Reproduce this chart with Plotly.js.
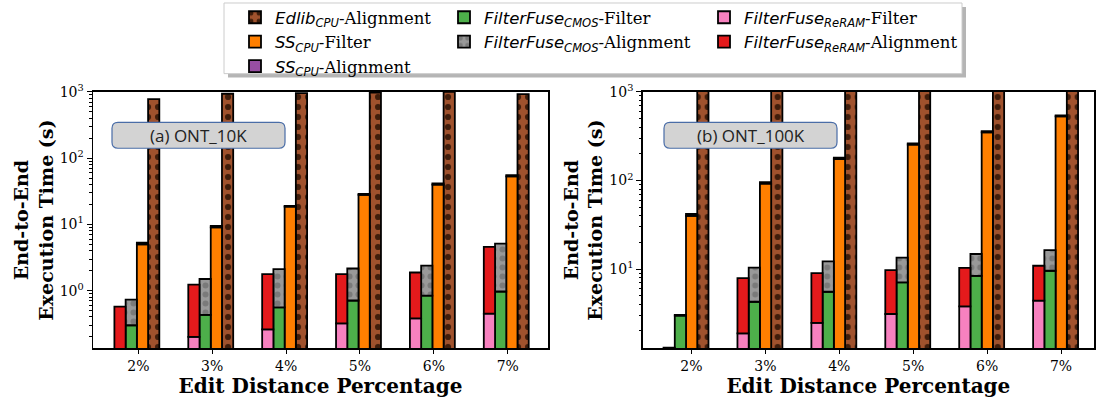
<!DOCTYPE html>
<html><head><meta charset="utf-8">
<script src="https://cdn.plot.ly/plotly-3.0.1.min.js"></script>
<style>html,body{margin:0;padding:0;background:#fff}#chart{width:1096px;height:400px}</style>
</head><body><div id="chart"></div>
<script>
// ---------------- data ----------------
const categories = ['2%', '3%', '4%', '5%', '6%', '7%'];

// (a) ONT_10K  (seconds)
const a_edlibAlign  = [780, 940, 960, 980, 1000, 930];
const a_ssFilter    = [5.0, 9.0, 18.5, 28, 40, 53];
const a_ssAlign     = [0.3, 0.5, 0.6, 1.0, 1.5, 2.5];
const a_cmosFilter  = [0.30, 0.43, 0.56, 0.71, 0.84, 0.97];
const a_cmosAlign   = [0.43, 1.07, 1.56, 1.45, 1.54, 4.17];
const a_reramFilter = [0.12, 0.20, 0.26, 0.32, 0.38, 0.45];
const a_reramAlign  = [0.455, 1.03, 1.52, 1.46, 1.50, 4.14];

// (b) ONT_100K (seconds)
const b_edlibAlign  = [1500, 1800, 2100, 2400, 2700, 3000];
const b_ssFilter    = [40, 92, 175, 255, 350, 530];
const b_ssAlign     = [2, 4, 6, 7, 11, 12];
const b_cmosFilter  = [2.98, 4.28, 5.55, 7.06, 8.4, 9.57];
const b_cmosAlign   = [0.05, 6.12, 6.65, 6.44, 6.4, 6.83];
const b_reramFilter = [0.9, 1.88, 2.47, 3.11, 3.79, 4.4];
const b_reramAlign  = [0.4, 6.02, 6.53, 6.64, 6.51, 6.5];

const leftTickVals  = [1, 10, 100, 1000];
const leftTickText  = ['10<sup>0</sup>', '10<sup>1</sup>', '10<sup>2</sup>', '10<sup>3</sup>'];
const rightTickVals = [10, 100, 1000];
const rightTickText = ['10<sup>1</sup>', '10<sup>2</sup>', '10<sup>3</sup>'];
const panelLabels   = ['(a) ONT_10K', '(b) ONT_100K'];

// ---------------- styling ----------------
const sub = (main, s) => `<span style="font-family:DejaVu Sans"><i>${main}</i><sub><i>${s}</i></sub></span>`;
const names = {
  edlib: sub('Edlib', 'CPU') + '-Alignment',
  ssF: sub('SS', 'CPU') + '-Filter',
  ssA: sub('SS', 'CPU') + '-Alignment',
  cmosF: sub('FilterFuse', 'CMOS') + '-Filter',
  cmosA: sub('FilterFuse', 'CMOS') + '-Alignment',
  reramF: sub('FilterFuse', 'ReRAM') + '-Filter',
  reramA: sub('FilterFuse', 'ReRAM') + '-Alignment'
};
const colors = {
  edlib: '#a0522d', ssF: '#ff7f00', ssA: '#984ea3', cmosF: '#4daf4a',
  cmosA: '#999999', reramF: '#f781bf', reramA: '#e41a1c'
};
const W = 0.152;
const edge = {color: '#000', width: 1.8};

function panel(d, xa, ya, shift, showLegend) {
  const o = shift; // offset of first bar relative to category centre
  const t = [];
  function bar(key, y, base, off, legend, pattern) {
    const tr = {
      type: 'bar', x: categories, y: y, xaxis: xa, yaxis: ya,
      name: names[key], legend: legend, showlegend: showLegend,
      offset: off, width: W,
      marker: {color: colors[key], line: edge},
      hoverinfo: 'y'
    };
    if (base) tr.base = base;
    if (pattern) tr.marker.pattern = Object.assign({bgcolor: colors[key], fillmode: 'replace'}, pattern);
    t.push(tr);
  }
  bar('edlib', d.edlib, null, o + 3 * W, 'legend',
      {shape: '.', fgcolor: '#3f1d0b', size: 10, solidity: 0.3});
  bar('ssF', d.ssF, null, o + 2 * W, 'legend');
  bar('ssA', d.ssA, d.ssF, o + 2 * W, 'legend');
  bar('cmosF', d.cmosF, null, o + W, 'legend2');
  bar('cmosA', d.cmosA, d.cmosF, o + W, 'legend2',
      {shape: '.', fgcolor: '#7a7a7a', size: 9, solidity: 0.35});
  bar('reramF', d.reramF, null, o, 'legend3');
  bar('reramA', d.reramA, d.reramF, o, 'legend3');
  return t;
}

const dataA = {edlib: a_edlibAlign, ssF: a_ssFilter, ssA: a_ssAlign, cmosF: a_cmosFilter,
               cmosA: a_cmosAlign, reramF: a_reramFilter, reramA: a_reramAlign};
const dataB = {edlib: b_edlibAlign, ssF: b_ssFilter, ssA: b_ssAlign, cmosF: b_cmosFilter,
               cmosA: b_cmosAlign, reramF: b_reramFilter, reramA: b_reramAlign};

const traces = [].concat(
  panel(dataA, 'x', 'y', -0.324, true),
  panel(dataB, 'x2', 'y2', -0.378, false)
);

function minorVals(lo, hi) {
  const v = [];
  for (let p = lo; p < hi; p++) for (let k = 2; k <= 9; k++) v.push(k * Math.pow(10, p));
  return v;
}

const serif = 'DejaVu Serif';
const titleFont = {family: serif, size: 20, color: '#000'};
const tickFont = {family: serif, size: 14, color: '#000'};

function xAxis(domain, range) {
  return {
    domain: domain, type: 'category', range: range,
    showline: true, linecolor: '#000', linewidth: 1.5, mirror: true,
    ticks: 'outside', ticklen: 4, tickwidth: 1, tickcolor: '#000',
    tickfont: tickFont, showgrid: false, zeroline: false, fixedrange: true,
    title: {text: '<b>Edit Distance Percentage</b>', font: titleFont, standoff: 3}
  };
}
function yAxis(range, tv, tt, minor, anchor) {
  return {
    domain: [0.13, 0.774], type: 'log', range: range, anchor: anchor,
    tickmode: 'array', tickvals: tv, ticktext: tt,
    showline: true, linecolor: '#000', linewidth: 1.5, mirror: true,
    ticks: 'outside', ticklen: 5, tickwidth: 1, tickcolor: '#000',
    minor: {tickmode: 'array', tickvals: minor, ticks: 'outside', ticklen: 2.5, tickwidth: 1, tickcolor: '#000', showgrid: false},
    tickfont: tickFont, showgrid: false, zeroline: false, fixedrange: true,
    title: {text: '<b>End-to-End<br>Execution Time (s)</b>', font: {family: serif, size: 19, color: '#000'}, standoff: 1}
  };
}

function roundRect(x0, y0, x1, y1, r) {
  const X = v => (v / 1096).toFixed(5), Y = v => (1 - v / 400).toFixed(5);
  return `M${X(x0 + r)},${Y(y0)} L${X(x1 - r)},${Y(y0)} Q${X(x1)},${Y(y0)} ${X(x1)},${Y(y0 + r)} ` +
         `L${X(x1)},${Y(y1 - r)} Q${X(x1)},${Y(y1)} ${X(x1 - r)},${Y(y1)} L${X(x0 + r)},${Y(y1)} ` +
         `Q${X(x0)},${Y(y1)} ${X(x0)},${Y(y1 - r)} L${X(x0)},${Y(y0 + r)} Q${X(x0)},${Y(y0)} ${X(x0 + r)},${Y(y0)} Z`;
}

const legendFont = {family: serif, size: 16.5, color: '#000'};
function leg(xpx) {
  return {x: xpx / 1096, y: 1 + 2 / 400, xanchor: 'left', yanchor: 'top',
          bgcolor: 'rgba(0,0,0,0)', borderwidth: 0, font: legendFont,
          traceorder: 'normal', itemclick: false, itemdoubleclick: false};
}

const layout = {
  width: 1096, height: 400,
  margin: {l: 0, r: 0, t: 0, b: 0},
  paper_bgcolor: '#fff', plot_bgcolor: '#fff',
  barmode: 'overlay',
  font: {family: serif, color: '#000'},
  xaxis: xAxis([0.0849, 0.5], [-0.613, 5.545]),
  yaxis: yAxis([-0.87, 3], leftTickVals, leftTickText, minorVals(-1, 3).filter(v => v > 0.13), 'x'),
  xaxis2: Object.assign(xAxis([0.5864, 0.9982], [-0.66, 5.446]), {anchor: 'y2'}),
  yaxis2: yAxis([0.106, 3], rightTickVals, rightTickText, minorVals(0, 3).filter(v => v > 1.2), 'x2'),
  legend: leg(235),
  legend2: leg(444),
  legend3: leg(704),
  shapes: [
    {type: 'rect', xref: 'paper', yref: 'paper', x0: 228 / 1096, x1: 966 / 1096, y0: 1 - 5 / 400, y1: 1 - 76 / 400,
     fillcolor: '#b5b5b5', line: {width: 0}, layer: 'above'},
    {type: 'rect', xref: 'paper', yref: 'paper', x0: 224 / 1096, x1: 962 / 1096, y0: 1 - 1 / 400, y1: 1 - 72 / 400,
     fillcolor: '#ffffff', line: {color: '#cccccc', width: 1}, layer: 'above'},
    {type: 'path', xref: 'paper', yref: 'paper', path: roundRect(112, 121, 285, 147, 6),
     fillcolor: '#d3d3d3', line: {color: '#4a6da7', width: 1.2}, layer: 'above'},
    {type: 'path', xref: 'paper', yref: 'paper', path: roundRect(664, 121, 837, 147, 6),
     fillcolor: '#d3d3d3', line: {color: '#4a6da7', width: 1.2}, layer: 'above'}
  ],
  annotations: [
    {xref: 'paper', yref: 'paper', x: 198.5 / 1096, y: 1 - 134 / 400, xanchor: 'center', yanchor: 'middle',
     text: panelLabels[0], showarrow: false, font: {family: 'Open Sans', size: 17, color: '#222'}},
    {xref: 'paper', yref: 'paper', x: 750.5 / 1096, y: 1 - 134 / 400, xanchor: 'center', yanchor: 'middle',
     text: panelLabels[1], showarrow: false, font: {family: 'Open Sans', size: 17, color: '#222'}}
  ]
};

Plotly.newPlot('chart', traces, layout, {displayModeBar: false, staticPlot: true});
</script>
</body></html>
